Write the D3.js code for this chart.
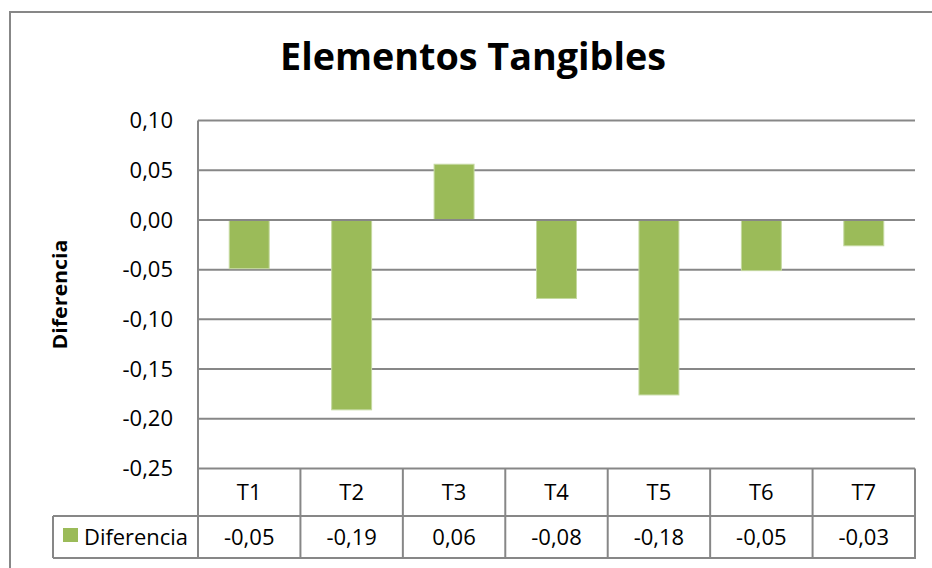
<!DOCTYPE html>
<html>
<head>
    <meta charset="utf-8">
    <title>Elementos Tangibles</title>
    <script src="https://d3js.org/d3.v7.min.js"></script>
    <style>
        body { margin: 0; background: #fff; }
        svg text { font-family: "Open Sans", "Noto Sans", sans-serif; fill: #000; }
    </style>
</head>
<body>
<div id="output"></div>

<script type="text/javascript">

    var categories = ["T1", "T2", "T3", "T4", "T5", "T6", "T7"];
    var diferencia = [-0.049, -0.191, 0.056, -0.079, -0.176, -0.051, -0.026];
    var yTicks = [0.10, 0.05, 0.00, -0.05, -0.10, -0.15, -0.20, -0.25];
    var seriesName = "Diferencia";

    var w = 932, h = 568;
    var plot = {left: 198, right: 915, top: 120.5, bottom: 468.5};
    var row1 = 516, row2 = 558;          // table row bottoms
    var gray = "#878787";
    var green = "#9BBB59";

    var loc = d3.formatLocale({decimal: ",", thousands: ".", grouping: [3], currency: ["", ""], minus: "-"});
    var fmt = loc.format(".2f");

    var svg = d3.select("#output").append("svg")
        .attr("width", w)
        .attr("height", h);

    // outer chart frame (right and bottom edges fall outside the picture)
    svg.append("rect")
        .attr("x", 10).attr("y", 12)
        .attr("width", 940).attr("height", 600)
        .attr("fill", "#fff")
        .attr("stroke", gray)
        .attr("stroke-width", 2);

    var x = d3.scaleBand()
        .domain(categories)
        .range([plot.left, plot.right])
        .paddingInner(0.61)
        .paddingOuter(0.305);

    var y = d3.scaleLinear()
        .domain([-0.25, 0.10])
        .range([plot.bottom, plot.top]);

    var step = x.step();
    function colLeft(c) { return x(c) + x.bandwidth() / 2 - step / 2; }

    // gridlines
    svg.append("g").selectAll("line")
        .data(yTicks)
        .enter().append("line")
        .attr("x1", plot.left).attr("x2", plot.right)
        .attr("y1", function(d){ return y(d); })
        .attr("y2", function(d){ return y(d); })
        .attr("stroke", gray)
        .attr("stroke-width", 2);

    // tick labels
    svg.append("g").selectAll("text")
        .data(yTicks)
        .enter().append("text")
        .attr("x", 173)
        .attr("y", function(d){ return y(d); })
        .attr("dy", "0.35em")
        .attr("text-anchor", "end")
        .style("font-size", "22px")
        .text(function(d){ return fmt(d); });

    // bars
    svg.append("g").selectAll("rect")
        .data(diferencia)
        .enter().append("rect")
        .attr("x", function(d, i){ return x(categories[i]); })
        .attr("width", x.bandwidth())
        .attr("y", function(d){ return y(Math.max(0, d)); })
        .attr("height", function(d){ return Math.abs(y(d) - y(0)); })
        .attr("fill", green)
        .attr("stroke", "#c5d9a0")
        .attr("stroke-width", 1);

    // zero line on top of bars
    svg.append("line")
        .attr("x1", plot.left).attr("x2", plot.right)
        .attr("y1", y(0)).attr("y2", y(0))
        .attr("stroke", gray).attr("stroke-width", 2);

    // data table
    var table = svg.append("g");

    table.append("line")
        .attr("x1", plot.left).attr("x2", plot.left)
        .attr("y1", plot.top).attr("y2", row2)
        .attr("stroke", gray).attr("stroke-width", 2);

    table.selectAll(".colline")
        .data(categories)
        .enter().append("line")
        .attr("class", "colline")
        .attr("x1", function(d){ return colLeft(d) + step; })
        .attr("x2", function(d){ return colLeft(d) + step; })
        .attr("y1", plot.bottom).attr("y2", row2)
        .attr("stroke", gray).attr("stroke-width", 2);

    table.append("line")
        .attr("x1", 53).attr("x2", plot.right)
        .attr("y1", row1).attr("y2", row1)
        .attr("stroke", gray).attr("stroke-width", 2);

    table.append("line")
        .attr("x1", 53).attr("x2", plot.right + 1)
        .attr("y1", row2).attr("y2", row2)
        .attr("stroke", gray).attr("stroke-width", 2);

    table.append("line")
        .attr("x1", 53).attr("x2", 53)
        .attr("y1", row1).attr("y2", row2)
        .attr("stroke", gray).attr("stroke-width", 2);

    table.selectAll(".cat")
        .data(categories)
        .enter().append("text")
        .attr("class", "cat")
        .attr("x", function(d){ return colLeft(d) + step / 2; })
        .attr("y", (plot.bottom + row1) / 2)
        .attr("dy", "0.35em")
        .attr("text-anchor", "middle")
        .style("font-size", "22px")
        .text(function(d){ return d; });

    table.selectAll(".val")
        .data(diferencia)
        .enter().append("text")
        .attr("class", "val")
        .attr("x", function(d, i){ return colLeft(categories[i]) + step / 2; })
        .attr("y", (row1 + row2) / 2)
        .attr("dy", "0.35em")
        .attr("text-anchor", "middle")
        .style("font-size", "22px")
        .text(function(d){ return fmt(d); });

    // legend key inside the table
    table.append("rect")
        .attr("x", 63).attr("y", 528)
        .attr("width", 15).attr("height", 14)
        .attr("fill", green);

    table.append("text")
        .attr("x", 84)
        .attr("y", (row1 + row2) / 2)
        .attr("dy", "0.35em")
        .attr("textLength", 104)
        .attr("lengthAdjust", "spacingAndGlyphs")
        .style("font-size", "22px")
        .text(seriesName);

    // title
    svg.append("text")
        .attr("x", 473)
        .attr("y", 70)
        .attr("text-anchor", "middle")
        .attr("textLength", 386)
        .attr("lengthAdjust", "spacingAndGlyphs")
        .style("font-size", "38px")
        .style("font-weight", "bold")
        .text("Elementos Tangibles");

    // y axis title
    svg.append("text")
        .attr("transform", "translate(67," + ((plot.top + plot.bottom) / 2) + ") rotate(-90)")
        .attr("text-anchor", "middle")
        .attr("textLength", 110)
        .attr("lengthAdjust", "spacingAndGlyphs")
        .style("font-size", "20px")
        .style("font-weight", "bold")
        .text("Diferencia");

</script>
</body>
</html>
